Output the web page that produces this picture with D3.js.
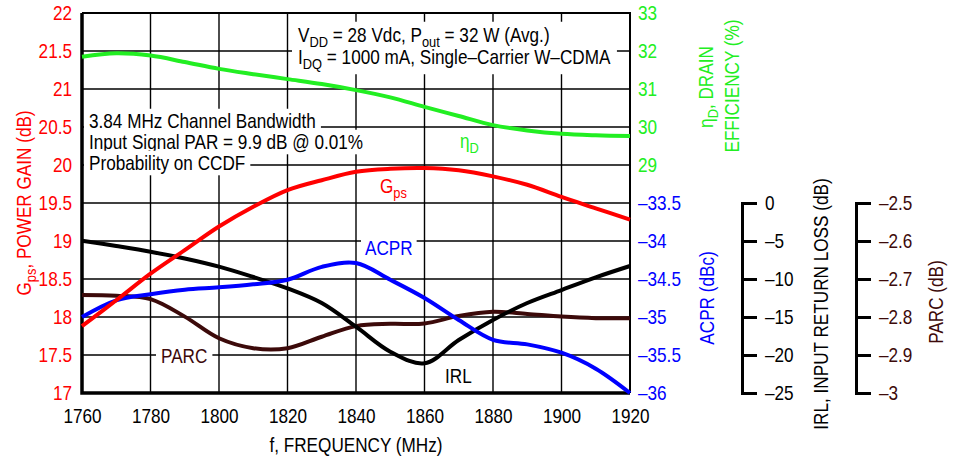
<!DOCTYPE html>
<html>
<head>
<meta charset="utf-8">
<script src="https://cdn.jsdelivr.net/npm/d3@7"></script>
<style>
body { margin: 0; background: #fff; }
svg text { font-family: "Liberation Sans Narrow", "Arial Narrow", "Liberation Sans", Arial, sans-serif; font-size: 20px; }
</style>
</head>
<body>
<div id="chart"></div>
<script>
// values, every 10 MHz
var freq = [1760, 1770, 1780, 1790, 1800, 1810, 1820, 1830, 1840, 1850, 1860, 1870, 1880, 1890, 1900, 1910, 1920];
var gps  = [17.88, 18.22, 18.57, 18.88, 19.19, 19.45, 19.67, 19.80, 19.91, 19.95, 19.96, 19.93, 19.85, 19.74, 19.58, 19.43, 19.28];
var eff  = [31.85, 31.94, 31.88, 31.71, 31.53, 31.39, 31.26, 31.13, 30.97, 30.78, 30.53, 30.29, 30.05, 29.91, 29.82, 29.78, 29.76];
var acpr = [-35.0, -34.78, -34.70, -34.64, -34.61, -34.57, -34.51, -34.34, -34.29, -34.51, -34.75, -35.04, -35.30, -35.36, -35.47, -35.68, -36.0];
var irl  = [-4.96, -5.66, -6.41, -7.3, -8.38, -9.74, -11.23, -13.16, -16.28, -19.56, -21.09, -18.03, -15.39, -13.16, -11.45, -9.78, -8.29];
var parc = [-2.742, -2.744, -2.753, -2.799, -2.856, -2.882, -2.882, -2.852, -2.824, -2.818, -2.817, -2.797, -2.786, -2.792, -2.799, -2.803, -2.803];

var freqTicks = [1760, 1780, 1800, 1820, 1840, 1860, 1880, 1900, 1920];
var gainTicks = [17, 17.5, 18, 18.5, 19, 19.5, 20, 20.5, 21, 21.5, 22];
var effTicks = [29, 30, 31, 32, 33];
var acprTicks = [-36, -35.5, -35, -34.5, -34, -33.5];
var irlTicks = [-25, -20, -15, -10, -5, 0];
var parcTicks = [-3, -2.9, -2.8, -2.7, -2.6, -2.5];

var GREEN = '#22ee22', RED = '#ff0000', BLUE = '#0000ff', BROWN = '#3c0a0a';

var svg = d3.select('#chart').append('svg')
  .attr('width', 956)
  .attr('height', 462);

var pLeft = 82, pRight = 630, pTop = 13, pBottom = 393;

var x = d3.scaleLinear().domain([1760, 1920]).range([pLeft, pRight]);
var yGain = d3.scaleLinear().domain([17, 22]).range([pBottom, pTop]);
var yEff = d3.scaleLinear().domain([23, 33]).range([pBottom, pTop]);
var yAcpr = d3.scaleLinear().domain([-36, -31]).range([pBottom, pTop]);
var yIrl = d3.scaleLinear().domain([-25, 25]).range([pBottom, pTop]);
var yParc = d3.scaleLinear().domain([-3, -2]).range([pBottom, pTop]);

function dash(d) { return String(d).replace('-', '\u2013'); }

// the reference uses a condensed face; squeeze if only the normal width is here
var probe = svg.append('text').text('3.84 MHz Channel Bandwidth');
var sx = Math.min(1, 227 / probe.node().getComputedTextLength());
probe.remove();

function squeeze(t, rotate) {
  var px = +t.attr('x') || 0, py = +t.attr('y') || 0;
  var tr = 'translate(' + px + ',' + py + ') scale(' + sx + ',1) translate(' + (-px) + ',' + (-py) + ')';
  if (rotate) tr = 'rotate(-90,' + px + ',' + py + ') ' + tr;
  t.attr('transform', tr);
}

// grid
var gridLayer = svg.append('g').attr('class', 'grid');
gridLayer.selectAll('line.h').data(gainTicks.slice(1, -1))
  .enter().append('line')
  .attr('x1', pLeft).attr('x2', pRight)
  .attr('y1', function(d) { return yGain(d); })
  .attr('y2', function(d) { return yGain(d); })
  .attr('stroke', '#000').attr('stroke-width', 1.4);
gridLayer.selectAll('line.v').data(freqTicks.slice(1, -1))
  .enter().append('line')
  .attr('y1', pTop).attr('y2', pBottom)
  .attr('x1', function(d) { return x(d); })
  .attr('x2', function(d) { return x(d); })
  .attr('stroke', '#000').attr('stroke-width', 1.4);

// frame
svg.append('path')
  .attr('d', 'M' + pLeft + ',' + pTop + 'H' + pRight + 'V' + pBottom)
  .attr('fill', 'none').attr('stroke', '#000').attr('stroke-width', 2);
svg.append('path')
  .attr('d', 'M' + pLeft + ',' + pTop + 'V' + pBottom + 'H' + pRight)
  .attr('fill', 'none').attr('stroke', '#000').attr('stroke-width', 3.5);

// text with subscripts: parts = [[text, isSub], ...]
function richText(g, parts, px, py, opts) {
  opts = opts || {};
  var t = g.append('text')
    .attr('x', px).attr('y', py)
    .attr('fill', opts.fill || '#000')
    .attr('text-anchor', opts.anchor || 'start');
  var wasSub = false;
  parts.forEach(function(p) {
    var s = t.append('tspan').text(p[0]);
    if (p[1]) {
      s.attr('font-size', '15px').attr('dy', wasSub ? 0 : 5);
      wasSub = true;
    } else {
      if (wasSub) s.attr('dy', -5);
      wasSub = false;
    }
  });
  squeeze(t, opts.rotate);
  return t;
}

function whiteBox(g, nodes, padX, padY) {
  var x0 = Infinity, y0 = Infinity, x1 = -Infinity, y1 = -Infinity;
  nodes.forEach(function(n) {
    var b = n.node().getBBox();
    var px = +n.attr('x');
    // bbox is in untransformed coords; apply the horizontal squeeze about x
    var bx0 = px + (b.x - px) * sx, bx1 = px + (b.x + b.width - px) * sx;
    x0 = Math.min(x0, bx0); y0 = Math.min(y0, b.y);
    x1 = Math.max(x1, bx1); y1 = Math.max(y1, b.y + b.height);
  });
  g.insert('rect', ':first-child')
    .attr('x', x0 - padX).attr('y', y0 - padY)
    .attr('width', x1 - x0 + 2 * padX).attr('height', y1 - y0 + 2 * padY)
    .attr('fill', '#fff');
}

// annotations
var noteTop = svg.append('g');
var n1 = richText(noteTop, [['V'], ['DD', 1], [' = 28 Vdc, P'], ['out', 1], [' = 32 W (Avg.)']], 298, 42);
var n2 = richText(noteTop, [['I'], ['DQ', 1], [' = 1000 mA, Single\u2013Carrier W\u2013CDMA']], 298, 64);
whiteBox(noteTop, [n1, n2], 6, 2);

var noteLeft = svg.append('g');
['3.84 MHz Channel Bandwidth', 'Input Signal PAR = 9.9 dB @ 0.01%', 'Probability on CCDF'].forEach(function(s, i) {
  var g = noteLeft.append('g');
  var t = richText(g, [[s]], 89, 128 + i * 21);
  whiteBox(g, [t], 5, 1);
});

// curves
var curveLayer = svg.append('g').attr('fill', 'none').attr('stroke-width', 4);
function addCurve(vals, yScale, color) {
  var line = d3.line()
    .x(function(d, i) { return x(freq[i]); })
    .y(function(d) { return yScale(d); })
    .curve(d3.curveCatmullRom.alpha(0.5));
  curveLayer.append('path').attr('d', line(vals)).attr('stroke', color);
}
addCurve(parc, yParc, BROWN);
addCurve(irl, yIrl, '#000');
addCurve(acpr, yAcpr, BLUE);
addCurve(gps, yGain, RED);
addCurve(eff, yEff, GREEN);

// curve labels
var lab = svg.append('g');
richText(lab, [['\u03b7'], ['D', 1]], 460, 148, { fill: GREEN });
richText(lab, [['G'], ['ps', 1]], 380, 193, { fill: RED });
var gA = lab.append('g');
var tA = richText(gA, [['ACPR']], 365, 255, { fill: BLUE });
whiteBox(gA, [tA], 4, 0);
var gP = lab.append('g');
var tP = richText(gP, [['PARC']], 161, 363, { fill: BROWN });
whiteBox(gP, [tP], 5, 0);
richText(lab, [['IRL']], 445, 383);

// axes
function styleAxis(g, color) {
  g.selectAll('text').attr('fill', color).style('font-size', '20px')
    .style('font-family', '"Liberation Sans Narrow", "Arial Narrow", "Liberation Sans", Arial, sans-serif')
    .each(function() {
      var t = d3.select(this);
      var px = +t.attr('x') || 0;
      t.attr('transform', 'translate(' + px + ',0) scale(' + sx + ',1) translate(' + (-px) + ',0)');
    });
}

var axL = svg.append('g').attr('transform', 'translate(' + pLeft + ',0)')
  .call(d3.axisLeft(yGain).tickValues(gainTicks).tickSize(0).tickPadding(10).tickFormat(String));
axL.select('.domain').remove();
styleAxis(axL, RED);

var axB = svg.append('g').attr('transform', 'translate(0,' + pBottom + ')')
  .call(d3.axisBottom(x).tickValues(freqTicks).tickSize(0).tickPadding(16).tickFormat(String));
axB.select('.domain').remove();
styleAxis(axB, '#000');

var axE = svg.append('g').attr('transform', 'translate(' + pRight + ',0)')
  .call(d3.axisRight(yEff).tickValues(effTicks).tickSize(0).tickPadding(8).tickFormat(String));
axE.select('.domain').remove();
styleAxis(axE, GREEN);

var axA = svg.append('g').attr('transform', 'translate(' + pRight + ',0)')
  .call(d3.axisRight(yAcpr).tickValues(acprTicks).tickSize(0).tickPadding(8).tickFormat(dash));
axA.select('.domain').remove();
styleAxis(axA, BLUE);

var irlAxisScale = d3.scaleLinear().domain([-25, 0]).range([yIrl(-25), yIrl(0)]);
var axI = svg.append('g').attr('transform', 'translate(742,0)')
  .call(d3.axisRight(irlAxisScale).tickValues(irlTicks).tickSize(15).tickSizeOuter(15).tickPadding(8).tickFormat(dash));
axI.selectAll('path, line').attr('stroke', '#000').attr('stroke-width', 3);
styleAxis(axI, '#000');

var parcAxisScale = d3.scaleLinear().domain([-3, -2.5]).range([yParc(-3), yParc(-2.5)]);
var axP = svg.append('g').attr('transform', 'translate(856,0)')
  .call(d3.axisRight(parcAxisScale).tickValues(parcTicks).tickSize(15).tickSizeOuter(15).tickPadding(8).tickFormat(dash));
axP.selectAll('path, line').attr('stroke', '#000').attr('stroke-width', 3);
styleAxis(axP, BROWN);

// axis titles
var titles = svg.append('g');
richText(titles, [['G'], ['ps', 1], [', POWER GAIN (dB)']], 31, 203, { fill: RED, anchor: 'middle', rotate: true });
richText(titles, [['f, FREQUENCY (MHz)']], 356, 452, { anchor: 'middle' });
richText(titles, [['\u03b7'], ['D', 1], [', DRAIN']], 713, 87, { fill: GREEN, anchor: 'middle', rotate: true });
richText(titles, [['EFFICIENCY (%)']], 739, 86, { fill: GREEN, anchor: 'middle', rotate: true });
richText(titles, [['ACPR (dBc)']], 714, 298, { fill: BLUE, anchor: 'middle', rotate: true });
richText(titles, [['IRL, INPUT RETURN LOSS (dB)']], 828, 304, { anchor: 'middle', rotate: true });
richText(titles, [['PARC (dB)']], 943, 302, { fill: BROWN, anchor: 'middle', rotate: true });
</script>
</body>
</html>
